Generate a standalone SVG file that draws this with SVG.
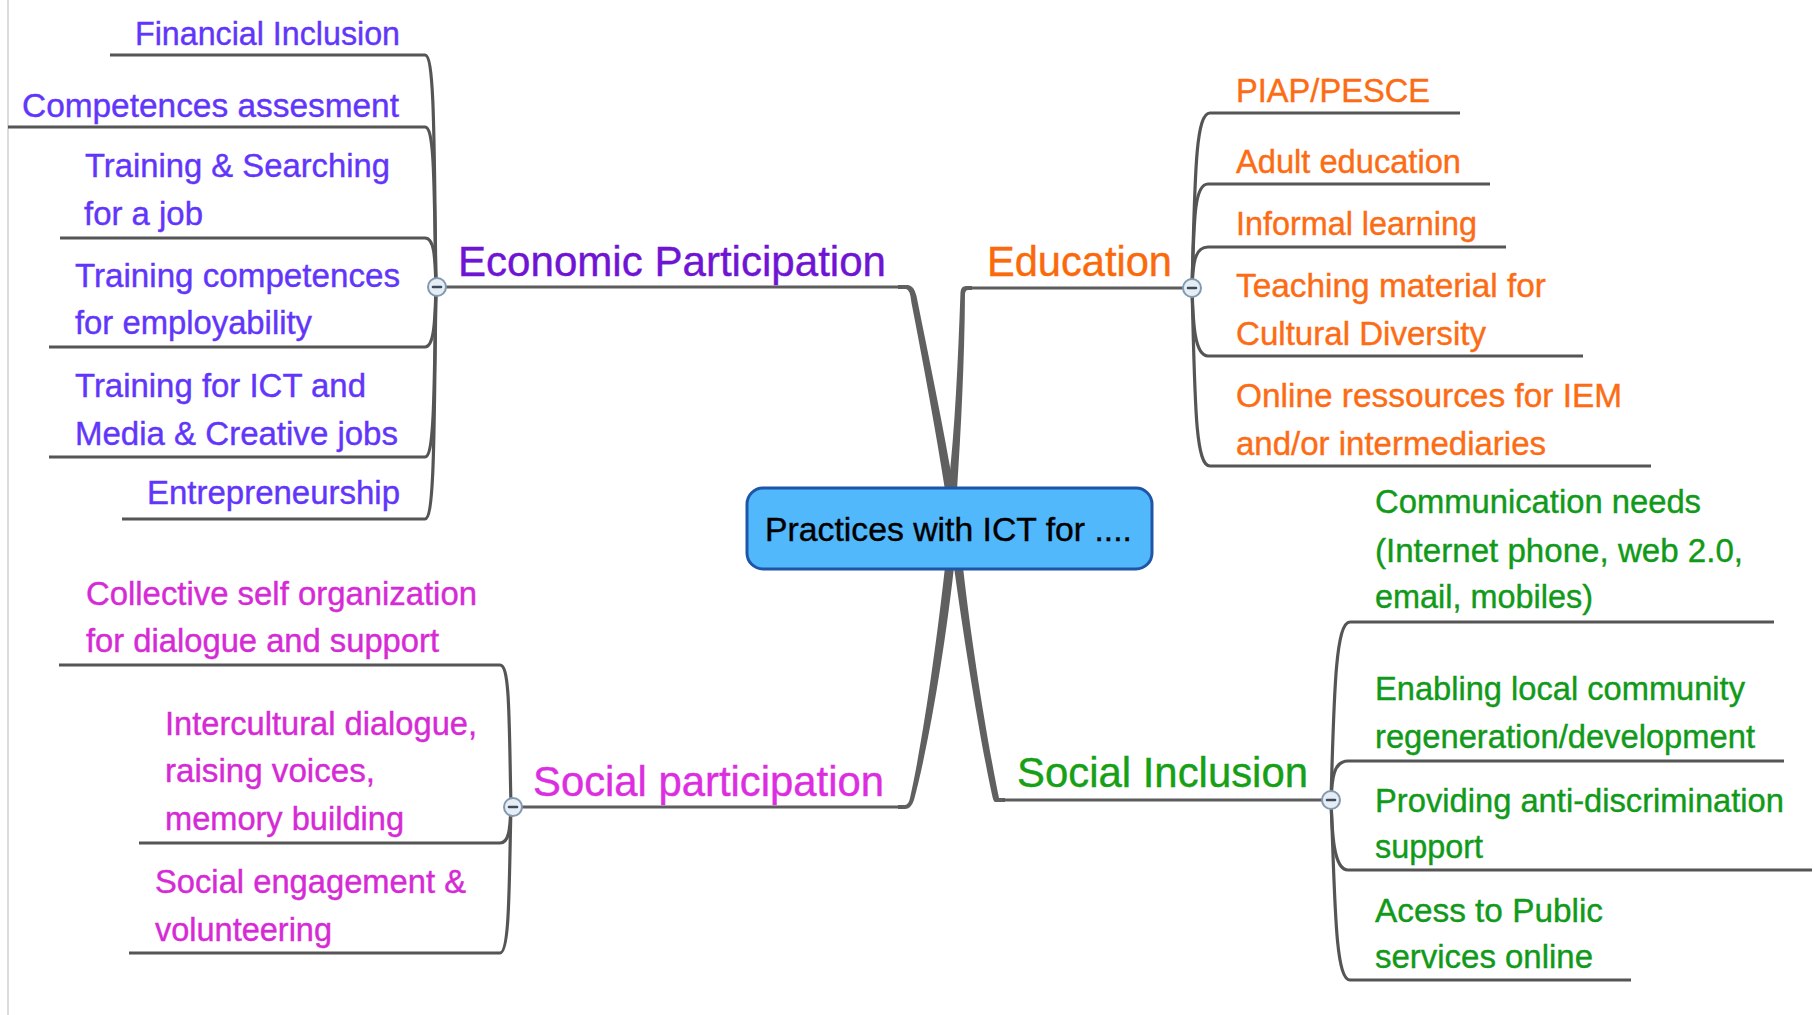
<svg xmlns="http://www.w3.org/2000/svg" width="1814" height="1015" viewBox="0 0 1814 1015">
<style>
text{font-family:"Liberation Sans",Arial,sans-serif;stroke-width:0.4px;}
.t{font-size:42px;}
.c{font-size:33px;}
.econ{fill:#7014d4;stroke:#7014d4;}
.econc{fill:#6236fa;stroke:#6236fa;}
.edu{fill:#fa6a0a;stroke:#fa6a0a;}
.educ{fill:#fc6c14;stroke:#fc6c14;}
.sp{fill:#dc2ee0;stroke:#dc2ee0;}
.spc{fill:#d52ad5;stroke:#d52ad5;}
.si{fill:#16a016;stroke:#16a016;}
.sic{fill:#119a1a;stroke:#119a1a;}
.ln{fill:none;stroke:#5c5c5c;stroke-width:3;stroke-linecap:round;}
.br{fill:none;stroke:#555555;stroke-width:3.2;}
.tap{fill:#606060;}
.col{fill:#e6edf4;stroke:#8299b2;stroke-width:2;}
.minus{stroke:#3c4b5c;stroke-width:2.6;stroke-linecap:round;}
</style>
<rect x="0" y="0" width="1814" height="1015" fill="#ffffff"/>
<line x1="8" y1="0" x2="8" y2="1015" stroke="#dcdcdc" stroke-width="2"/>

<g id="connectors">
  <!-- central connectors (tapered) -->
  <path class="tap" d="M 898 285 L 908 285 Q 914 285.5 916.5 296 C 929 358, 944 430, 954 490 L 945 490 C 936 432, 923 362, 911.5 303 Q 910 289 906 289 L 898 289 Z"/>
  <path class="tap" d="M 972 286 L 966 286 Q 961 286 960.5 292 C 958 360, 955 430, 948 490 L 957 490 C 961 430, 964.5 360, 965 294 Q 965.5 290 968 290 L 972 290 Z"/>
  <path class="tap" d="M 945 567 L 954 567 C 946 640, 930 740, 914 800 Q 911 809 905 809 L 898 809 L 898 805 L 905 805 Q 908.5 805 910 798 C 923 740, 937 640, 945 567 Z"/>
  <path class="tap" d="M 954 567 L 963 567 C 971 640, 987 740, 999 798 L 1005 798 L 1005 802 L 995 802 Q 993.5 801.5 992.5 797 C 980 740, 964 640, 954 567 Z"/>
  <!-- main branch lines -->
  <line class="ln" x1="437" y1="287" x2="900" y2="287"/>
  <line class="ln" x1="970" y1="288" x2="1192" y2="288"/>
  <line class="ln" x1="513" y1="807" x2="900" y2="807"/>
  <line class="ln" x1="1003" y1="800" x2="1331" y2="800"/>
  <!-- Economic participation children -->
  <path class="br" d="M 436 287 C 434 150, 435 55, 425 55 H 110"/>
  <path class="br" d="M 436 287 C 434 190, 435 127, 425 127 H 8"/>
  <path class="br" d="M 436 287 C 435 260, 435 238, 425 238 H 60"/>
  <path class="br" d="M 436 287 C 435 315, 435 347, 425 347 H 49"/>
  <path class="br" d="M 436 287 C 434 380, 435 457, 425 457 H 49"/>
  <path class="br" d="M 436 287 C 434 420, 435 519, 425 519 H 122"/>
  <!-- Education children -->
  <path class="br" d="M 1192 288 C 1195 180, 1195 113, 1210 113 H 1460"/>
  <path class="br" d="M 1192 288 C 1194 220, 1194 184, 1208 184 H 1490"/>
  <path class="br" d="M 1192 288 C 1193 265, 1194 247, 1208 247 H 1506"/>
  <path class="br" d="M 1192 288 C 1193 320, 1194 356, 1208 356 H 1583"/>
  <path class="br" d="M 1192 288 C 1195 400, 1195 466, 1210 466 H 1651"/>
  <!-- Social participation children -->
  <path class="br" d="M 511 807 C 509 720, 510 665, 500 665 H 59"/>
  <path class="br" d="M 511 807 C 510 825, 510 843, 500 843 H 139"/>
  <path class="br" d="M 511 807 C 509 880, 510 953, 500 953 H 129"/>
  <!-- Social inclusion children -->
  <path class="br" d="M 1331 800 C 1334 700, 1335 622, 1350 622 H 1774"/>
  <path class="br" d="M 1331 800 C 1332 780, 1333 761, 1348 761 H 1784"/>
  <path class="br" d="M 1331 800 C 1332 830, 1333 870, 1348 870 H 1812"/>
  <path class="br" d="M 1331 800 C 1335 900, 1335 980, 1350 980 H 1631"/>
  <!-- collapse markers -->
  <circle class="col" cx="437" cy="287" r="9"/><line class="minus" x1="433" y1="287" x2="441" y2="287"/>
  <circle class="col" cx="1192" cy="288" r="9"/><line class="minus" x1="1188" y1="288" x2="1196" y2="288"/>
  <circle class="col" cx="513" cy="807" r="9"/><line class="minus" x1="509" y1="807" x2="517" y2="807"/>
  <circle class="col" cx="1331" cy="800" r="9"/><line class="minus" x1="1327" y1="800" x2="1335" y2="800"/>
</g>

<g id="center">
  <rect x="747" y="488" width="405" height="81" rx="16" fill="#52b8fc" stroke="#1f55a8" stroke-width="3"/>
  <text x="765" y="541" font-size="33" fill="#000" stroke="#000" textLength="367" lengthAdjust="spacingAndGlyphs">Practices with ICT for ....</text>
</g>

<g id="economic">
  <text class="t econ" x="458" y="276" textLength="428" lengthAdjust="spacingAndGlyphs">Economic Participation</text>
</g>
<g id="econ-financial"><text class="c econc" x="135" y="45" textLength="265" lengthAdjust="spacingAndGlyphs">Financial Inclusion</text></g>
<g id="econ-competences"><text class="c econc" x="22" y="117" textLength="377" lengthAdjust="spacingAndGlyphs">Competences assesment</text></g>
<g id="econ-searching">
  <text class="c econc" x="85" y="177" textLength="305" lengthAdjust="spacingAndGlyphs">Training &amp; Searching</text>
  <text class="c econc" x="84" y="225" textLength="119" lengthAdjust="spacingAndGlyphs">for a job</text>
</g>
<g id="econ-employability">
  <text class="c econc" x="75" y="287" textLength="325" lengthAdjust="spacingAndGlyphs">Training competences</text>
  <text class="c econc" x="75" y="334" textLength="237" lengthAdjust="spacingAndGlyphs">for employability</text>
</g>
<g id="econ-ict">
  <text class="c econc" x="75" y="397" textLength="291" lengthAdjust="spacingAndGlyphs">Training for ICT and</text>
  <text class="c econc" x="75" y="445" textLength="323" lengthAdjust="spacingAndGlyphs">Media &amp; Creative jobs</text>
</g>
<g id="econ-entrepreneurship"><text class="c econc" x="147" y="504" textLength="253" lengthAdjust="spacingAndGlyphs">Entrepreneurship</text></g>

<g id="education">
  <text class="t edu" x="987" y="276" textLength="185" lengthAdjust="spacingAndGlyphs">Education</text>
</g>
<g id="edu-piap"><text class="c educ" x="1236" y="102" textLength="194" lengthAdjust="spacingAndGlyphs">PIAP/PESCE</text></g>
<g id="edu-adult"><text class="c educ" x="1236" y="173" textLength="225" lengthAdjust="spacingAndGlyphs">Adult education</text></g>
<g id="edu-informal"><text class="c educ" x="1236" y="235" textLength="241" lengthAdjust="spacingAndGlyphs">Informal learning</text></g>
<g id="edu-teaching">
  <text class="c educ" x="1236" y="297" textLength="310" lengthAdjust="spacingAndGlyphs">Teaching material for</text>
  <text class="c educ" x="1236" y="345" textLength="250" lengthAdjust="spacingAndGlyphs">Cultural Diversity</text>
</g>
<g id="edu-online">
  <text class="c educ" x="1236" y="407" textLength="386" lengthAdjust="spacingAndGlyphs">Online ressources for IEM</text>
  <text class="c educ" x="1236" y="455" textLength="310" lengthAdjust="spacingAndGlyphs">and/or intermediaries</text>
</g>

<g id="social-participation">
  <text class="t sp" x="533" y="796" textLength="351" lengthAdjust="spacingAndGlyphs">Social participation</text>
</g>
<g id="sp-collective">
  <text class="c spc" x="86" y="605" textLength="391" lengthAdjust="spacingAndGlyphs">Collective self organization</text>
  <text class="c spc" x="86" y="652" textLength="353" lengthAdjust="spacingAndGlyphs">for dialogue and support</text>
</g>
<g id="sp-intercultural">
  <text class="c spc" x="165" y="735" textLength="312" lengthAdjust="spacingAndGlyphs">Intercultural dialogue,</text>
  <text class="c spc" x="165" y="782" textLength="210" lengthAdjust="spacingAndGlyphs">raising voices,</text>
  <text class="c spc" x="165" y="830" textLength="239" lengthAdjust="spacingAndGlyphs">memory building</text>
</g>
<g id="sp-engagement">
  <text class="c spc" x="155" y="893" textLength="311" lengthAdjust="spacingAndGlyphs">Social engagement &amp;</text>
  <text class="c spc" x="155" y="941" textLength="177" lengthAdjust="spacingAndGlyphs">volunteering</text>
</g>

<g id="social-inclusion">
  <text class="t si" x="1017" y="787" textLength="291" lengthAdjust="spacingAndGlyphs">Social Inclusion</text>
</g>
<g id="si-communication">
  <text class="c sic" x="1375" y="513" textLength="326" lengthAdjust="spacingAndGlyphs">Communication needs</text>
  <text class="c sic" x="1375" y="562" textLength="368" lengthAdjust="spacingAndGlyphs">(Internet phone, web 2.0,</text>
  <text class="c sic" x="1375" y="608" textLength="218" lengthAdjust="spacingAndGlyphs">email, mobiles)</text>
</g>
<g id="si-enabling">
  <text class="c sic" x="1375" y="700" textLength="370" lengthAdjust="spacingAndGlyphs">Enabling local community</text>
  <text class="c sic" x="1375" y="748" textLength="380" lengthAdjust="spacingAndGlyphs">regeneration/development</text>
</g>
<g id="si-providing">
  <text class="c sic" x="1375" y="812" textLength="409" lengthAdjust="spacingAndGlyphs">Providing anti-discrimination</text>
  <text class="c sic" x="1375" y="858" textLength="108" lengthAdjust="spacingAndGlyphs">support</text>
</g>
<g id="si-access">
  <text class="c sic" x="1375" y="922" textLength="228" lengthAdjust="spacingAndGlyphs">Acess to Public</text>
  <text class="c sic" x="1375" y="968" textLength="218" lengthAdjust="spacingAndGlyphs">services online</text>
</g>
</svg>
